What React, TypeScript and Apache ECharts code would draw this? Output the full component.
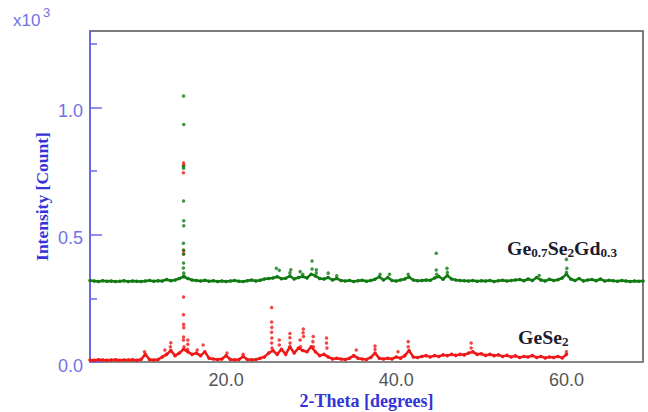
import React, { useEffect, useRef } from "react";
import * as echarts from "echarts";

// sampling grid of the continuous traces (degrees 2-theta)
const gridStart = 4;
const gridStep = 0.5;

// Ge0.7Se2Gd0.3 trace (x 1e3 counts), 4.0 .. 69.0 step 0.5
const greenBase = [
  0.320, 0.318, 0.316, 0.319, 0.317, 0.318, 0.316, 0.317, 0.319, 0.316,
  0.318, 0.317, 0.316, 0.318, 0.320, 0.317, 0.319, 0.318, 0.324, 0.319,
  0.322, 0.328, 0.335, 0.328, 0.322, 0.320, 0.318, 0.321, 0.317, 0.319,
  0.316, 0.318, 0.316, 0.318, 0.320, 0.317, 0.316, 0.319, 0.322, 0.318,
  0.321, 0.326, 0.328, 0.330, 0.335, 0.327, 0.329, 0.338, 0.326, 0.332,
  0.336, 0.330, 0.345, 0.338, 0.328, 0.326, 0.332, 0.322, 0.328, 0.320,
  0.318, 0.320, 0.316, 0.319, 0.321, 0.317, 0.320, 0.325, 0.335, 0.322,
  0.332, 0.320, 0.318, 0.322, 0.326, 0.334, 0.322, 0.319, 0.320, 0.322,
  0.321, 0.330, 0.336, 0.325, 0.340, 0.326, 0.322, 0.320, 0.319, 0.318,
  0.320, 0.317, 0.319, 0.318, 0.320, 0.316, 0.319, 0.321, 0.318, 0.320,
  0.322, 0.324, 0.319, 0.326, 0.320, 0.332, 0.322, 0.318, 0.325, 0.320,
  0.323, 0.330, 0.345, 0.326, 0.320, 0.328, 0.318, 0.322, 0.324, 0.319,
  0.326, 0.318, 0.321, 0.319, 0.317, 0.320, 0.318, 0.316, 0.318, 0.317,
  0.318,
];

// GeSe2 trace (x 1e3 counts), 4.0 .. 60.0 step 0.5
const redBase = [
  0.008, 0.007, 0.009, 0.008, 0.007, 0.008, 0.009, 0.007, 0.008, 0.008,
  0.009, 0.007, 0.010, 0.030, 0.010, 0.008, 0.010, 0.020, 0.030, 0.045,
  0.025, 0.035, 0.050, 0.040, 0.030, 0.035, 0.025, 0.040, 0.015, 0.012,
  0.010, 0.012, 0.025, 0.010, 0.009, 0.010, 0.022, 0.010, 0.009, 0.010,
  0.015, 0.020, 0.035, 0.045, 0.030, 0.050, 0.030, 0.060, 0.035, 0.055,
  0.045, 0.040, 0.060, 0.040, 0.025, 0.030, 0.020, 0.012, 0.015, 0.012,
  0.010, 0.015, 0.025, 0.015, 0.012, 0.010, 0.018, 0.035, 0.015, 0.012,
  0.015, 0.012, 0.020, 0.015, 0.025, 0.045, 0.020, 0.018, 0.022, 0.025,
  0.020, 0.025, 0.022, 0.028, 0.025, 0.030, 0.026, 0.030, 0.028, 0.035,
  0.040, 0.030, 0.032, 0.026, 0.030, 0.025, 0.028, 0.022, 0.026, 0.020,
  0.024, 0.018, 0.022, 0.020, 0.025, 0.018, 0.022, 0.016, 0.020, 0.018,
  0.022, 0.016, 0.030,
];

// isolated counts on the reflections [2-theta, intensity]
const greenPeaks = [
  [15.0, 1.045], [15.02, 0.933], [14.98, 0.769], [15.0, 0.761], [15.0, 0.632],
  [15.02, 0.555], [15.02, 0.535], [14.98, 0.466], [15.0, 0.44], [14.98, 0.424],
  [15.0, 0.389], [14.98, 0.369], [15.02, 0.349], [15.05, 0.338],
  [25.9, 0.368], [26.25, 0.36], [27.6, 0.362], [27.5, 0.35], [28.7, 0.355],
  [29.0, 0.345], [30.1, 0.397], [30.1, 0.365], [30.6, 0.362], [30.6, 0.35],
  [32.0, 0.349], [33.0, 0.339], [38.1, 0.345], [39.2, 0.345], [41.4, 0.345],
  [44.7, 0.427], [44.7, 0.361], [44.75, 0.345], [45.96, 0.368], [46.0, 0.352],
  [56.8, 0.34], [60.0, 0.403], [60.05, 0.368], [60.0, 0.352],
];

const redPeaks = [
  [15.0, 0.782], [15.02, 0.773], [14.98, 0.743], [15.0, 0.437], [15.02, 0.424],
  [15.0, 0.255], [14.98, 0.186], [15.0, 0.148], [15.02, 0.135], [15.0, 0.098],
  [14.98, 0.086], [15.05, 0.06], [15.5, 0.086], [15.5, 0.07], [15.45, 0.05],
  [13.5, 0.076], [13.45, 0.06], [12.8, 0.047], [10.4, 0.04], [17.3, 0.067],
  [16.6, 0.047], [20.1, 0.035], [22.0, 0.03],
  [25.35, 0.214], [25.35, 0.157], [25.37, 0.136], [25.35, 0.117], [25.37, 0.094],
  [25.35, 0.075], [25.4, 0.055], [26.25, 0.086], [26.25, 0.067], [27.5, 0.112],
  [27.5, 0.095], [27.52, 0.075], [29.07, 0.13], [29.05, 0.115], [29.1, 0.1],
  [28.7, 0.086], [28.75, 0.06], [30.24, 0.1], [30.2, 0.08], [30.25, 0.06],
  [31.8, 0.094], [31.8, 0.075], [31.85, 0.055], [35.3, 0.047], [37.5, 0.063],
  [37.5, 0.05], [41.4, 0.08], [41.4, 0.06], [48.8, 0.075], [48.8, 0.055],
  [40.2, 0.04], [60.0, 0.04],
];

const xTickLabels = [20, 40, 60];
const yTickLabels = [0, 0.5, 1.0];
const yMinorTicks = [0.25, 0.75, 1.25];

const BLUE_AXIS = "#6a6aee";
const BLUE_LABEL = "#7272e4";
const BLUE_TITLE = "#3434d8";
const GREEN = "#127a12";
const RED = "#f01818";
const LABEL_DARK = "#1c1c30";

export default function App() {
  const ref = useRef<HTMLDivElement>(null);

  useEffect(() => {
    document.body.style.margin = "0";
    if (!ref.current) return;
    const chart = echarts.init(ref.current, null, { renderer: "svg" });

    const greenData = greenBase.map((v, i) => [gridStart + i * gridStep, v]);
    const redData = redBase.map((v, i) => [gridStart + i * gridStep, v]);

    const serifBold = {
      fontFamily: "'Liberation Serif', 'Times New Roman', serif",
      fontWeight: "bold" as const,
    };

    chart.setOption({
      animation: false,
      grid: {
        left: 90,
        right: 5,
        top: 31,
        bottom: 50,
        show: true,
        borderColor: "#505050",
        borderWidth: 1.5,
        containLabel: false,
        outerBoundsMode: "none",
      },
      xAxis: {
        type: "value",
        min: 4,
        max: 69,
        axisLine: { show: true, lineStyle: { color: "#8a8a8a", width: 1.5 } },
        axisTick: { show: false },
        splitLine: { show: false },
        axisLabel: {
          customValues: xTickLabels,
          formatter: (v: number) => v.toFixed(1),
          color: "#555555",
          fontSize: 18,
          fontFamily: "'Liberation Sans', Arial, sans-serif",
          margin: 9,
        },
        name: "2-Theta [degrees]",
        nameLocation: "middle",
        nameGap: 30,
        nameMoveOverlap: false,
        nameTextStyle: { color: BLUE_TITLE, fontSize: 18, ...serifBold },
      },
      yAxis: [
        {
          type: "value",
          min: 0,
          max: 1.3,
          position: "left",
          axisLine: { show: true, lineStyle: { color: BLUE_AXIS, width: 1.5 } },
          axisTick: {
            show: true,
            inside: true,
            length: 12,
            customValues: yTickLabels,
            lineStyle: { color: BLUE_AXIS, width: 1.5 },
          },
          axisLabel: {
            customValues: yTickLabels,
            formatter: (v: number) => v.toFixed(1),
            color: BLUE_LABEL,
            fontSize: 18,
            fontFamily: "'Liberation Sans', Arial, sans-serif",
            margin: 7,
            verticalAlign: "top",
            lineHeight: 7,
          },
          splitLine: { show: false },
          name: "Intensity [Count]",
          nameLocation: "middle",
          nameGap: 39,
          nameMoveOverlap: false,
          nameTextStyle: { color: BLUE_TITLE, fontSize: 17.5, ...serifBold },
        },
        {
          type: "value",
          min: 0,
          max: 1.3,
          position: "left",
          axisLine: { show: true, lineStyle: { color: BLUE_AXIS, width: 1.5 } },
          axisTick: {
            show: true,
            inside: true,
            length: 7,
            customValues: yMinorTicks,
            lineStyle: { color: BLUE_AXIS, width: 1.5 },
          },
          axisLabel: { show: false },
          splitLine: { show: false },
        },
      ],
      graphic: [
        {
          type: "text",
          left: 13,
          top: 12,
          style: {
            text: "x10",
            fill: BLUE_LABEL,
            fontSize: 17,
            fontFamily: "'Liberation Sans', Arial, sans-serif",
          },
        },
        {
          type: "text",
          left: 43,
          top: 6,
          style: {
            text: "3",
            fill: BLUE_LABEL,
            fontSize: 13,
            fontFamily: "'Liberation Sans', Arial, sans-serif",
          },
        },
        {
          type: "text",
          x: 507,
          y: 239,
          scaleX: 1.1,
          style: {
            text: "{m|Ge}{s|0.7}{m|Se}{s|2}{m|Gd}{s|0.3}",
            rich: {
              m: { fontSize: 18, lineHeight: 20, fill: LABEL_DARK, ...serifBold },
              s: { fontSize: 12, lineHeight: 8, verticalAlign: "bottom", fill: LABEL_DARK, ...serifBold },
            },
          },
        },
        {
          type: "text",
          x: 518,
          y: 328,
          scaleX: 1.1,
          style: {
            text: "{m|GeSe}{s|2}",
            rich: {
              m: { fontSize: 18, lineHeight: 20, fill: LABEL_DARK, ...serifBold },
              s: { fontSize: 12, lineHeight: 8, verticalAlign: "bottom", fill: LABEL_DARK, ...serifBold },
            },
          },
        },
      ],
      series: [
        {
          name: "GeSe2",
          type: "line",
          data: redData,
          symbol: "circle",
          symbolSize: 3.5,
          showSymbol: true,
          lineStyle: { color: RED, width: 2.5 },
          itemStyle: { color: RED },
          z: 2,
        },
        {
          name: "GeSe2 peaks",
          type: "scatter",
          data: redPeaks,
          symbolSize: 3.5,
          itemStyle: { color: RED },
          z: 2,
        },
        {
          name: "Ge0.7Se2Gd0.3",
          type: "line",
          data: greenData,
          symbol: "circle",
          symbolSize: 3.5,
          showSymbol: true,
          lineStyle: { color: GREEN, width: 2.5 },
          itemStyle: { color: GREEN },
          z: 3,
        },
        {
          name: "Ge0.7Se2Gd0.3 peaks",
          type: "scatter",
          data: greenPeaks,
          symbolSize: 3.5,
          itemStyle: { color: GREEN },
          z: 3,
        },
      ],
    });

    return () => chart.dispose();
  }, []);

  return <div ref={ref} style={{ width: 648, height: 412 }} />;
}
